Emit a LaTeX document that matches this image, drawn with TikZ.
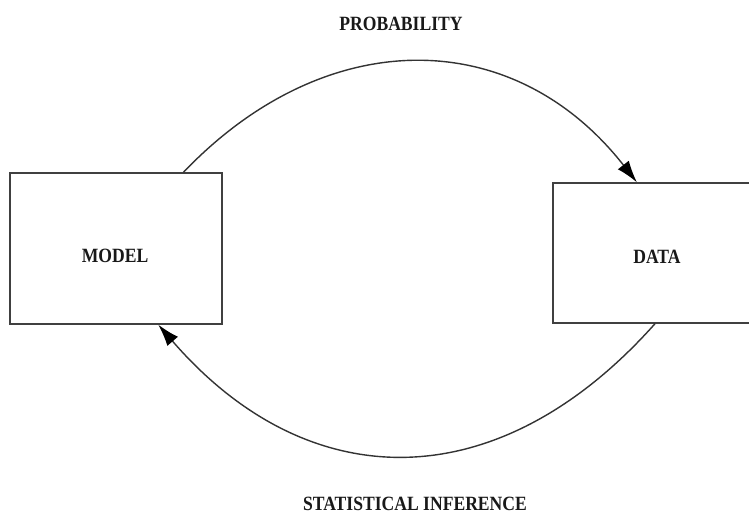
\documentclass[tikz,border=0pt]{standalone}
\usepackage{fontspec}
\setmainfont{Liberation Serif}
\usetikzlibrary{arrows.meta,calc}
\begin{document}
\begin{tikzpicture}[x=1pt,y=-1pt,
  boxstyle/.style={draw=black!75,line width=1.3pt,rectangle,inner sep=0pt},
  lbl/.style={font=\fontsize{17.6}{20}\selectfont\bfseries,text=black!90,inner sep=0pt,yscale=1.15},
  arcstyle/.style={draw=black!80,line width=1.4pt,-{Latex[length=22pt,width=14pt,fill=black,color=black]}}]
\useasboundingbox (0,0) rectangle (749,516);
\clip (0,0) rectangle (749,516);
\fill[white] (0,0) rectangle (749,516);
\node[boxstyle,minimum width=212pt,minimum height=151pt] (model) at (116,248.5) {};
\node[boxstyle,minimum width=207pt,minimum height=140pt] (data) at (656.5,253) {};
\node[lbl] (mlab) at (115,256) {MODEL};
\node[lbl] (dlab) at (657,257) {DATA};
\node[lbl] (prob) at (401,24) {PROBABILITY};
\node[lbl] (stat) at (415,504) {STATISTICAL INFERENCE};
\coordinate (a1) at ($(model.north west)!0.816!(model.north east)$);
\coordinate (a2) at ($(data.north west)!0.406!(data.north east)$);
\coordinate (b1) at ($(data.south west)!0.493!(data.south east)$);
\coordinate (b2) at ($(model.south west)!0.698!(model.south east)$);
\draw[arcstyle] (a1) .. controls (325,24) and (513,24) .. (a2);
\draw[arcstyle] (b1) .. controls (499,499) and (309,499) .. (b2);
\end{tikzpicture}
\end{document}
